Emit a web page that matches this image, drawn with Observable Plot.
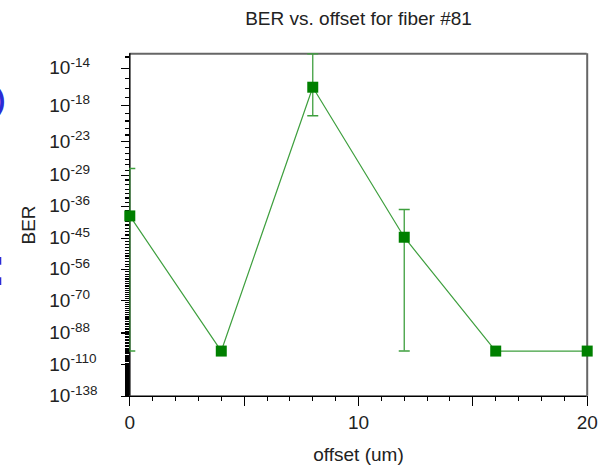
<!DOCTYPE html>
<html><head><meta charset="utf-8">
<script src="https://cdn.jsdelivr.net/npm/d3@7"></script>
<script src="https://cdn.jsdelivr.net/npm/@observablehq/plot@0.6"></script>
<style>
body{margin:0;background:#fff;}
#wrap{position:relative;width:605px;height:465px;overflow:hidden;font-family:"Liberation Sans",Arial,sans-serif;}
.frag{position:absolute;color:#2b2bd6;font-weight:bold;line-height:1;}
</style>
</head><body><div id="wrap"></div>
<script>
// ---- data ----
const offsets   = [0, 4, 8, 12, 16, 20];
const berExp    = [38.5, 100, 15.9, 44.7, 100, 100];     // BER = 10^-berExp
const errTopExp = [27.7, null, 12.72, 36.8, null, null];  // upper BER bound exponent
const errBotExp = [100, null, 19.3, 100, null, null];     // lower BER bound exponent
const majorExps = [14, 18, 23, 29, 36, 45, 56, 70, 88, 110, 138];
const xTickLabels = [0, 10, 20];
const yDomainExp = [12.72, 138];
const title = "BER vs. offset for fiber #81";
const xLabel = "offset (um)";
const yLabel = "BER";

// BER axis: log of Q where BER = 0.5 erfc(Q/sqrt2)
function expOfQ(q){
  const s = 1 - 1/(q*q) + 3/q**4 - 15/q**6;
  return q*q/(2*Math.LN10) + Math.log10(q*Math.sqrt(2*Math.PI)) - Math.log10(s);
}
function qOf(e){
  let lo = 3, hi = 60;
  for (let k = 0; k < 80; k++){ const m = (lo+hi)/2; if (expOfQ(m) < e) lo = m; else hi = m; }
  return (lo+hi)/2;
}

const points = offsets.map((x, i) => ({x, q: qOf(berExp[i])}));
const errs = offsets.map((x, i) => errTopExp[i] == null ? null :
  ({x, q1: qOf(errTopExp[i]), q2: qOf(errBotExp[i])})).filter(d => d);
const caps = errs.flatMap(d => [{x: d.x, q: d.q1}, {x: d.x, q: d.q2}]);
const qTop = qOf(yDomainExp[0]), qBot = qOf(yDomainExp[1]);
const majorQ = majorExps.map(qOf);
const qToExp = new Map(majorQ.map((q, i) => [q, majorExps[i]]));
const minorQ = d3.range(13, 139).filter(e => !majorExps.includes(e)).map(qOf);

const green = "#008000", lineGreen = "#3e9f3e";
const capSymbol = {draw(ctx){ ctx.moveTo(-5.5, 0); ctx.lineTo(5.5, 0); }};

const chart = Plot.plot({
  width: 605, height: 465,
  marginLeft: 129.3, marginRight: 18.3, marginTop: 53.3, marginBottom: 69.3,
  style: {fontFamily: "'Liberation Sans', Arial, sans-serif", fontSize: "19px", color: "black", background: "white"},
  x: {domain: [0, 20], label: null},
  y: {type: "log", domain: [qTop, qBot], reverse: true, label: null},
  marks: [
    Plot.ruleY([qTop], {stroke: "#666", strokeWidth: 2}),
    Plot.ruleX([20], {stroke: "#666", strokeWidth: 2}),
    Plot.axisY({ticks: minorQ, tickSize: 4.3, tickFormat: () => "", label: null,
      stroke: "black", strokeWidth: 1.2, strokeOpacity: 1, shapeRendering: "crispEdges"}),
    Plot.axisY({ticks: majorQ, tickSize: 8, tickPadding: 72.5, textAnchor: "start", fontSize: 19,
      stroke: "black", strokeWidth: 1.2, strokeOpacity: 1, shapeRendering: "crispEdges",
      tickFormat: q => "10|-" + qToExp.get(q), label: null, fill: "#222"}),
    Plot.axisX({ticks: d3.range(0, 21), tickSize: 5, tickFormat: () => "", label: null,
      stroke: "black", strokeOpacity: 1, shapeRendering: "crispEdges"}),
    Plot.axisX({ticks: [0, 5, 10, 15, 20], tickSize: 10.7, tickFormat: () => "", label: null,
      stroke: "black", strokeOpacity: 1, shapeRendering: "crispEdges"}),
    Plot.axisX({ticks: xTickLabels, tickSize: 10.7, tickPadding: 9, fontSize: 19, label: null,
      stroke: "black", strokeOpacity: 1, shapeRendering: "crispEdges", fill: "#222"}),
    Plot.ruleX([0], {stroke: "black", strokeWidth: 1.5}),
    Plot.ruleY([qBot], {stroke: "black", strokeWidth: 1.5}),
    Plot.line(points, {x: "x", y: "q", stroke: lineGreen, strokeWidth: 1.2}),
    Plot.ruleX(errs, {x: "x", y1: "q1", y2: "q2", stroke: lineGreen, strokeWidth: 1.3, clip: true}),
    Plot.dot(caps, {x: "x", y: "q", symbol: capSymbol, r: 5, stroke: lineGreen, strokeWidth: 1.5, fill: "none", clip: true}),
    Plot.dot(points, {x: "x", y: "q", symbol: "square", r: 6.2, fill: green, stroke: "none"}),
    Plot.text([title], {frameAnchor: "top", dy: -42, fontSize: 19, fill: "#222"}),
    Plot.text([xLabel], {frameAnchor: "bottom", dy: 65, fontSize: 19, fill: "#222"}),
    Plot.text([yLabel], {frameAnchor: "left", textAnchor: "middle", dx: -101, rotate: -90, fontSize: 19, fill: "#222"})
  ]
});

// superscript exponents in the BER tick labels
d3.select(chart).selectAll("text").each(function(){
  const t = this.textContent;
  if (!t.includes("|")) return;
  const [base, sup] = t.split("|");
  const sel = d3.select(this);
  sel.text("");
  sel.append("tspan").text(base);
  sel.append("tspan").attr("font-size", 13.5).attr("dy", -7.5).text(sup);
});

const wrap = document.getElementById("wrap");
wrap.appendChild(chart);
// cropped fragments of neighbouring text at the left edge of the reference
const f1 = document.createElement("div"); f1.className = "frag"; f1.textContent = ")";
f1.style.cssText = "left:-4px;top:86px;font-size:28px;";
const f2 = document.createElement("div"); f2.className = "frag"; f2.textContent = ":";
f2.style.cssText = "left:-12px;top:238px;font-size:56px;";
wrap.appendChild(f1); wrap.appendChild(f2);
</script>
</body></html>
